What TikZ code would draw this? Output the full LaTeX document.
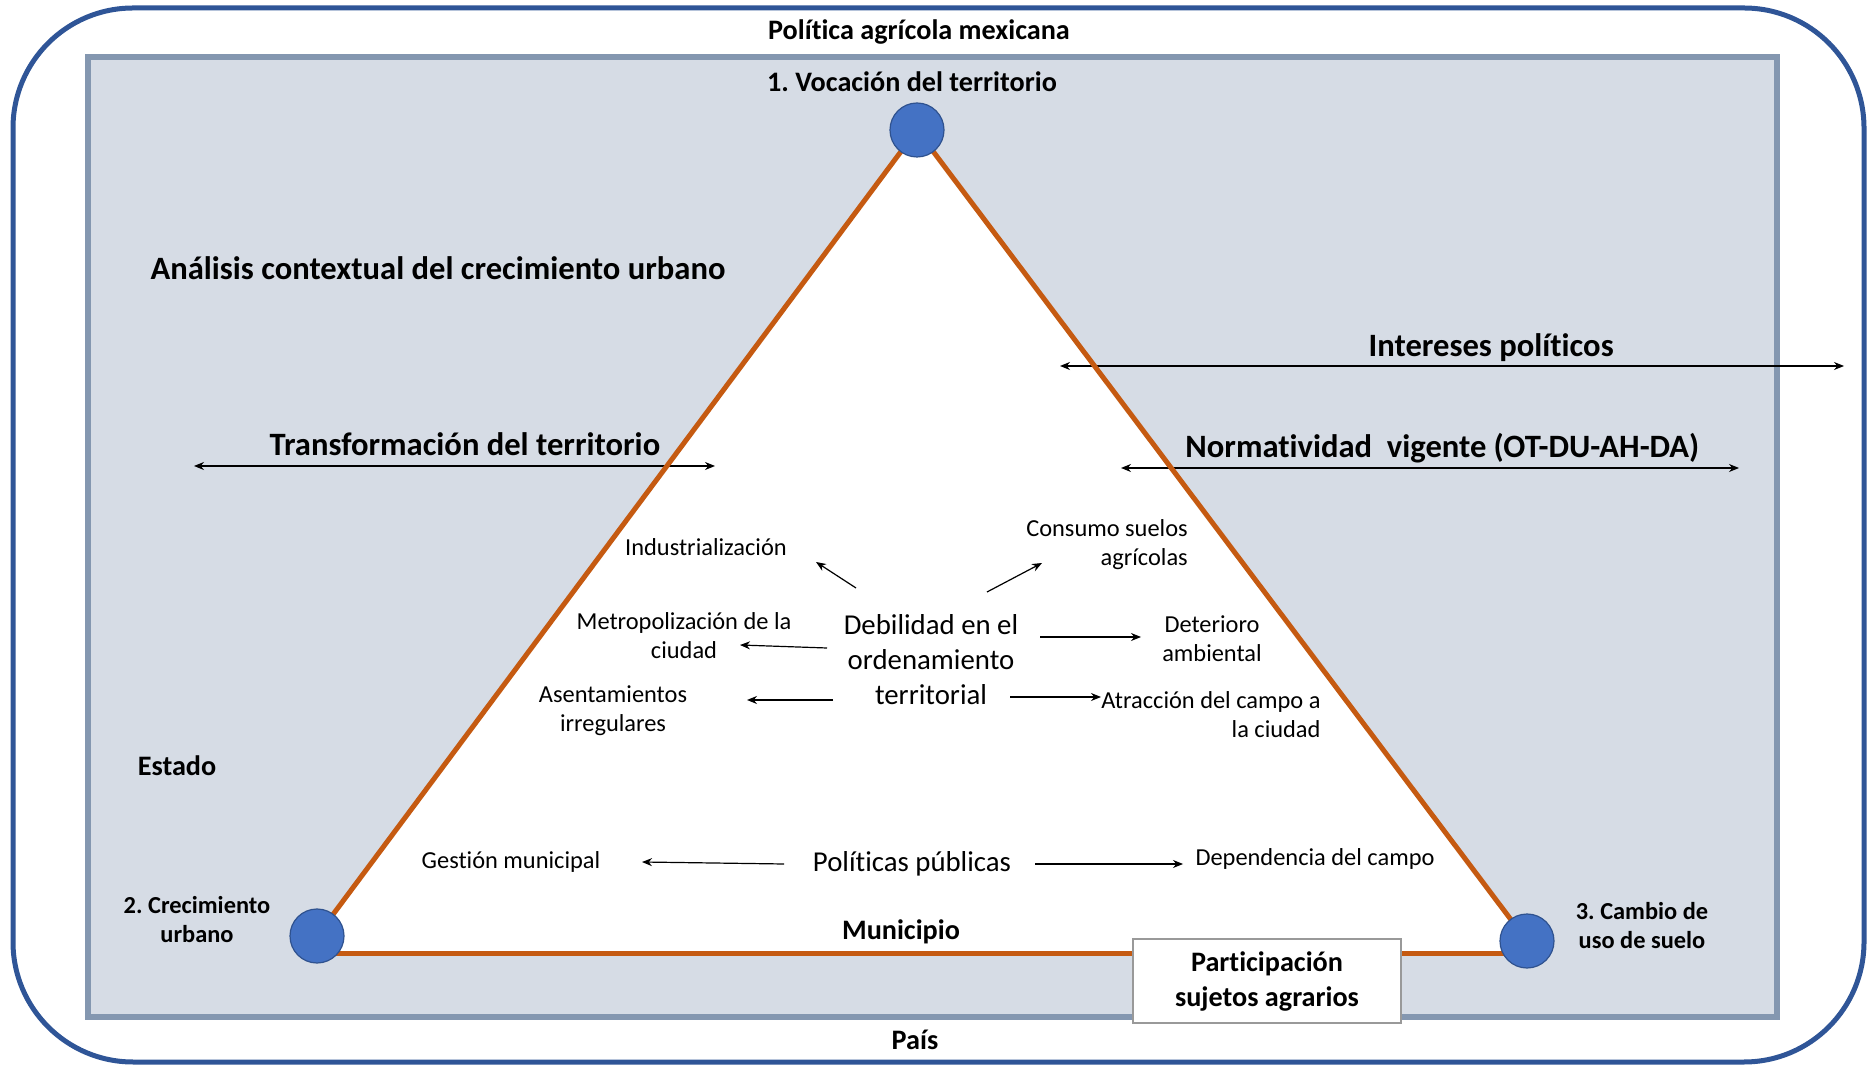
\documentclass[tikz,border=0pt]{standalone}
\usepackage{fontspec}
\setmainfont{Carlito}[RawFeature={-liga;-clig;-calt;-dlig}]
\frenchspacing
\usetikzlibrary{arrows.meta}

\definecolor{marco}{HTML}{2F5597}
\definecolor{fondo}{HTML}{D6DCE5}
\definecolor{borde}{HTML}{8497B0}
\definecolor{naranja}{HTML}{C55A11}
\definecolor{punto}{HTML}{4472C4}
\definecolor{puntoborde}{HTML}{2F528F}

\begin{document}
\begin{tikzpicture}
[x=0.5pt, y=-0.5pt,
 titulo/.style={font=\bfseries\fontsize{14.1}{14.5}\selectfont, align=center},
 grande/.style={font=\bfseries\fontsize{16.3}{17}\selectfont, inner sep=2pt},
 subt/.style={font=\bfseries\fontsize{12.2}{14.5}\selectfont, align=center},
 chico/.style={font=\fontsize{12.2}{14.5}\selectfont, align=center},
 medio/.style={font=\fontsize{14.4}{17.5}\selectfont, align=center},
 caja/.style={draw=black!40, fill=white, line width=0.7pt, minimum width=134pt, minimum height=42pt, font=\bfseries\fontsize{14.1}{17.5}\selectfont, align=center},
 vertice/.style={circle, fill=punto, draw=puntoborde, line width=0.6pt, minimum size=27pt, inner sep=0pt},
 lado/.style={naranja, line width=2.5pt},
 flecha/.style={-{Stealth[length=5pt,width=4pt]}, line width=0.6pt},
 doble/.style={{Stealth[length=5pt,width=4pt]}-{Stealth[length=5pt,width=4pt]}, line width=0.6pt}]
\useasboundingbox (0,0) rectangle (1874,1068);
% marcos
\draw[marco, line width=2.5pt, rounded corners=60pt, fill=white] (13,8) rectangle (1864,1062);
\draw[borde, line width=3pt, fill=fondo] (88,57) rectangle (1777,1017);
% triangulo
\coordinate (c1) at (917,130);
\coordinate (c2) at (317,936);
\coordinate (c3) at (1527,941);
\coordinate (bl) at (317,953);
\coordinate (br) at (1527,953);
\fill[white] (c1) -- (c2) -- (bl) -- (br) -- (c3) -- cycle;
% flechas largas
\coordinate (int-a) at (1060,366);
\coordinate (int-b) at (1844,366);
\coordinate (tra-a) at (194,466);
\coordinate (tra-b) at (715,466);
\coordinate (nor-a) at (1121,468);
\coordinate (nor-b) at (1739,468);
\draw[doble] (int-a) -- node[grande, above, pos=0.55] (int) {Intereses políticos} (int-b);
\draw[doble] (tra-a) -- node[grande, above, pos=0.52, yshift=3pt] (tra) {Transformación del territorio} (tra-b);
\draw[doble] (nor-a) -- node[grande, above, pos=0.52] (nor) {Normatividad~ vigente (OT-DU-AH-DA)} (nor-b);
\draw[lado] (c2) -- (c1) -- (c3);
\draw[lado] (bl) -- (br);
\node[caja] (par) at (1267,981) {Participación\\sujetos agrarios};
\node[vertice] (v1) at (c1) {};
\node[vertice] (v2) at (c2) {};
\node[vertice] (v3) at (c3) {};
% textos
\node[titulo] (pol) at (919,32) {Política agrícola mexicana};
\node[titulo] (voc) at (912,82) {1. Vocación del territorio};
\node[grande] (ana) at (438,268) {Análisis contextual del crecimiento urbano};
\node[titulo] (est) at (177,766) {Estado};
\node[titulo] (mun) at (901,932) {Municipio};
\node[titulo] (pai) at (915,1040) {País};
\node[subt] (cre) at (197,920) {2. Crecimiento\\urbano};
\node[subt] (cam) at (1642,926) {3. Cambio de\\uso de suelo};
% dentro del triangulo
\node[medio] (deb) at (931,660) {Debilidad en el\\ordenamiento\\territorial};
\node[chico] (ind) at (706,547) {Industrialización};
\node[chico, align=right] (con) at (1107,545) {Consumo suelos\\agrícolas};
\node[chico] (met) at (684,636) {Metropolización de la\\ciudad};
\node[chico] (det) at (1212,639) {Deterioro\\ambiental};
\node[chico] (ase) at (613,711) {Asentamientos\\irregulares};
\node[chico, align=right] (atr) at (1211,715) {Atracción del campo a\\la ciudad};
\node[medio] (ppu) at (912,864) {Políticas públicas};
\node[chico] (ges) at (511,862) {Gestión municipal};
\node[chico] (dep) at (1315,859) {Dependencia del campo};
\draw[flecha] ([shift={(-75,-72)}]deb.center) -- ([shift={(110,15)}]ind.center);
\draw[flecha] ([shift={(56,-68)}]deb.center) -- ([shift={(-65,18)}]con.center);
\draw[flecha] ([shift={(-104,-12)}]deb.center) -- ([shift={(56,9)}]met.center);
\draw[flecha] ([shift={(109,-23)}]deb.center) -- ([shift={(-71,-2)}]det.center);
\draw[flecha] ([shift={(-98,40)}]deb.center) -- ([shift={(134,-11)}]ase.center);
\draw[flecha] ([shift={(79,37)}]deb.center) -- ([shift={(-110,-18)}]atr.center);
\draw[flecha] ([shift={(-128,0)}]ppu.center) -- ([shift={(131,0)}]ges.center);
\draw[flecha] ([shift={(123,0)}]ppu.center) -- ([shift={(-132,5)}]dep.center);
\end{tikzpicture}
\end{document}
